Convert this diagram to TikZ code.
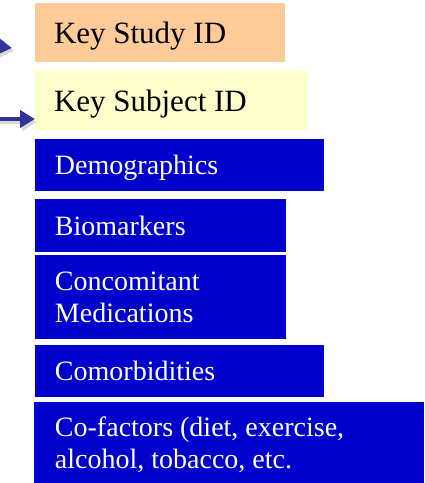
\documentclass[tikz,border=0pt]{standalone}
\usepackage{fontspec}
\setmainfont{Liberation Serif}
\usetikzlibrary{arrows.meta}
\definecolor{peach}{HTML}{FFCC99}
\definecolor{paleyellow}{HTML}{FFFFCC}
\definecolor{boxblue}{HTML}{0000CC}
\definecolor{arrowblue}{HTML}{333399}
\newcommand{\boxtext}[3]{\raisebox{0pt}[\height][0pt]{\parbox[b]{#1}{\leftskip=#2\relax #3}}}
\tikzset{
  keybox/.style={anchor=north west, inner sep=0pt, outer sep=0pt, minimum height=#1,
    font=\fontsize{31}{32}\selectfont, text=black},
  bluebox/.style={anchor=north west, fill=boxblue, inner sep=0pt, outer sep=0pt, minimum height=#1,
    font=\fontsize{28}{32}\selectfont, text=white},
  keyarrow/.style={draw=arrowblue, line width=4pt, -{Triangle[length=15pt,width=17pt]}},
  arrowshadow/.style={draw=black!15, line width=4pt, -{Triangle[length=15pt,width=17pt]}}
}
\begin{document}
\begin{tikzpicture}[x=1pt,y=-1pt]
\useasboundingbox (0,0) rectangle (424,483);
\clip (0,0) rectangle (424,483);
% boxes
\node[keybox=59pt, fill=peach, minimum width=250pt] (study) at (35,3) {\boxtext{250pt}{19pt}{Key Study ID}};
\node[keybox=59pt, fill=paleyellow, minimum width=273pt] (subject) at (35,71) {\boxtext{273pt}{19pt}{Key Subject ID}};
\node[bluebox=52pt, minimum width=289pt] (demo) at (35,139) {\boxtext{289pt}{20pt}{Demographics}};
\node[bluebox=53pt, minimum width=251pt] (bio) at (35,199) {\boxtext{251pt}{20pt}{Biomarkers}};
\node[bluebox=84pt, minimum width=251pt] (conmed) at (35,255) {\boxtext{251pt}{20pt}{Concomitant\\Medications}};
\node[bluebox=52pt, minimum width=289pt] (comorb) at (35,345) {\boxtext{289pt}{20pt}{Comorbidities}};
\node[bluebox=81pt, minimum width=390pt] (cofac) at (34,402) {\boxtext{390pt}{21pt}{Co-factors (diet, exercise,\\alcohol, tobacco, etc.}};
% arrows
\coordinate (a1s) at (-30,43);
\coordinate (a1e) at (12,48);
\coordinate (a2s) at (-10,119);
\coordinate (a2e) at (subject.west |- 0,119);
\draw[arrowshadow, transform canvas={shift={(2pt,-3pt)}}] (a1s) -- (a1e);
\draw[arrowshadow, transform canvas={shift={(2pt,-3pt)}}] (a2s) -- (a2e);
\draw[keyarrow] (a1s) -- (a1e);
\draw[keyarrow] (a2s) -- (a2e);
\end{tikzpicture}
\end{document}
